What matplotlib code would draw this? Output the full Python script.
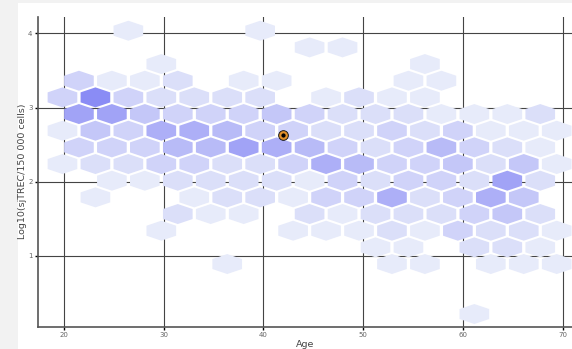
import matplotlib.pyplot as plt
import numpy as np
from matplotlib.collections import PolyCollection
from matplotlib.colors import LinearSegmentedColormap, Normalize
from matplotlib.patches import Rectangle

# hexbin grid: centre of bin (col, row) = origin + index * step
age_origin, age_step = 39.67, 1.65
log_origin, log_step = 4.035, 0.2246

# one entry per occupied hexagon: row index (top = 0), column index, count
hex_row = [0, 0,
           1, 1,
           2, 2,
           3, 3, 3, 3, 3, 3, 3, 3,
           4, 4, 4, 4, 4, 4, 4, 4, 4, 4, 4,
           5, 5, 5, 5, 5, 5, 5, 5, 5, 5, 5, 5, 5, 5, 5,
           6, 6, 6, 6, 6, 6, 6, 6, 6, 6, 6, 6, 6, 6, 6, 6,
           7, 7, 7, 7, 7, 7, 7, 7, 7, 7, 7, 7, 7, 7, 7,
           8, 8, 8, 8, 8, 8, 8, 8, 8, 8, 8, 8, 8, 8, 8, 8,
           9, 9, 9, 9, 9, 9, 9, 9, 9, 9, 9, 9, 9, 9,
           10, 10, 10, 10, 10, 10, 10, 10, 10, 10, 10, 10,
           11, 11, 11, 11, 11, 11, 11, 11, 11, 11, 11,
           12, 12, 12, 12, 12, 12, 12, 12, 12, 12,
           13, 13, 13, 13, 13,
           14, 14, 14, 14, 14, 14,
           17]
hex_col = [-8, 0,
           3, 5,
           -6, 10,
           -11, -9, -7, -5, -1, 1, 9, 11,
           -12, -10, -8, -6, -4, -2, 0, 4, 6, 8, 10,
           -11, -9, -7, -5, -3, -1, 1, 3, 5, 7, 9, 11, 13, 15, 17,
           -12, -10, -8, -6, -4, -2, 0, 2, 4, 6, 8, 10, 12, 14, 16, 18,
           -11, -9, -7, -5, -3, -1, 1, 3, 5, 7, 9, 11, 13, 15, 17,
           -12, -10, -8, -6, -4, -2, 0, 2, 4, 6, 8, 10, 12, 14, 16, 18,
           -9, -7, -5, -3, -1, 1, 3, 5, 7, 9, 11, 13, 15, 17,
           -10, -4, -2, 0, 2, 4, 6, 8, 10, 12, 14, 16,
           -5, -3, -1, 3, 5, 7, 9, 11, 13, 15, 17,
           -6, 2, 4, 6, 8, 10, 12, 14, 16, 18,
           7, 9, 13, 15, 17,
           -2, 8, 10, 14, 16, 18,
           13]
hex_count = [1, 1,
             1, 1,
             1, 1,
             3, 1, 1, 2, 1, 1, 1, 1,
             3, 9, 3, 2, 2, 2, 2, 1, 2, 1, 1,
             7, 7, 4, 3, 3, 3, 4, 3, 2, 2, 2, 1, 1, 1, 2,
             1, 4, 3, 6, 6, 5, 3, 3, 2, 2, 3, 2, 3, 1, 1, 1,
             3, 3, 3, 5, 5, 7, 6, 5, 3, 2, 3, 5, 3, 2, 1,
             1, 2, 2, 3, 3, 2, 2, 3, 6, 5, 3, 3, 4, 2, 4, 1,
             1, 1, 2, 2, 2, 2, 1, 3, 2, 3, 3, 2, 7, 2,
             1, 1, 2, 2, 1, 3, 3, 6, 2, 3, 6, 4,
             2, 1, 1, 2, 1, 2, 2, 2, 3, 4, 2,
             1, 1, 1, 1, 2, 1, 3, 2, 2, 1,
             1, 1, 2, 2, 1,
             1, 1, 1, 1, 1, 1,
             1]

# highlighted sample
point_age = [42.0]
point_log = [2.63]

x_ticks = [20, 30, 40, 50, 60, 70]
y_ticks = [1, 2, 3, 4]

fig = plt.figure(figsize=(5.72, 3.49), dpi=100)
fig.patch.set_facecolor('white')
# light grey page margin on the left and top
fig.add_artist(Rectangle((0, 0), 18 / 572, 1, transform=fig.transFigure,
                         facecolor='#f2f2f2', edgecolor='none', zorder=0))
fig.add_artist(Rectangle((0, 1 - 3 / 349), 1, 3 / 349, transform=fig.transFigure,
                         facecolor='#f2f2f2', edgecolor='none', zorder=0))

ax = fig.add_axes([38 / 572, 22.3 / 349, 1 - 38 / 572, 310 / 349])
ax.set_xlim(17.42, 70.9)
ax.set_ylim(0.046, 4.224)

# pointy-top hexagons, shrunk a little so the grid shows through the gaps
shrink = 0.9
hw = age_step * shrink
hh = log_step * 4 / 3 / 2 * shrink
hex_shape = np.array([[0, hh], [hw, hh / 2], [hw, -hh / 2],
                      [0, -hh], [-hw, -hh / 2], [-hw, hh / 2]])
cx = age_origin + age_step * np.array(hex_col)
cy = log_origin - log_step * np.array(hex_row)
verts = [hex_shape + [x, y] for x, y in zip(cx, cy)]

cmap = LinearSegmentedColormap.from_list('lav', ['#e7ebfa', '#8a8cf5'])
pc = PolyCollection(verts, array=np.array(hex_count, dtype=float), cmap=cmap,
                    norm=Normalize(1, 9), edgecolors='none', zorder=2)
ax.add_collection(pc)

ax.scatter(point_age, point_log, s=(9.5 * 0.72) ** 2, facecolor='black',
           edgecolor='#1a1a1a', linewidths=0.8, zorder=4)
ax.scatter(point_age, point_log, s=(6.5 * 0.72) ** 2, facecolor='black',
           edgecolor='#e0902a', linewidths=1.6, zorder=5)

ax.set_xticks(x_ticks)
ax.set_yticks(y_ticks)
ax.grid(True, color='#444444', linewidth=0.8)
ax.set_axisbelow(True)
for side in ['top', 'right']:
    ax.spines[side].set_visible(False)
for side in ['left', 'bottom']:
    ax.spines[side].set_color('#555555')
    ax.spines[side].set_linewidth(1.2)
ax.tick_params(length=2, width=1, color='black', labelsize=5,
               labelcolor='#666666', pad=2)
ax.set_xlabel('Age', fontsize=6.8, color='#444444', labelpad=1)
ax.set_ylabel('Log10(sjTREC/150 000 cells)', fontsize=6.8, color='#444444',
              labelpad=1)

fig.savefig('out.png', dpi=100)
